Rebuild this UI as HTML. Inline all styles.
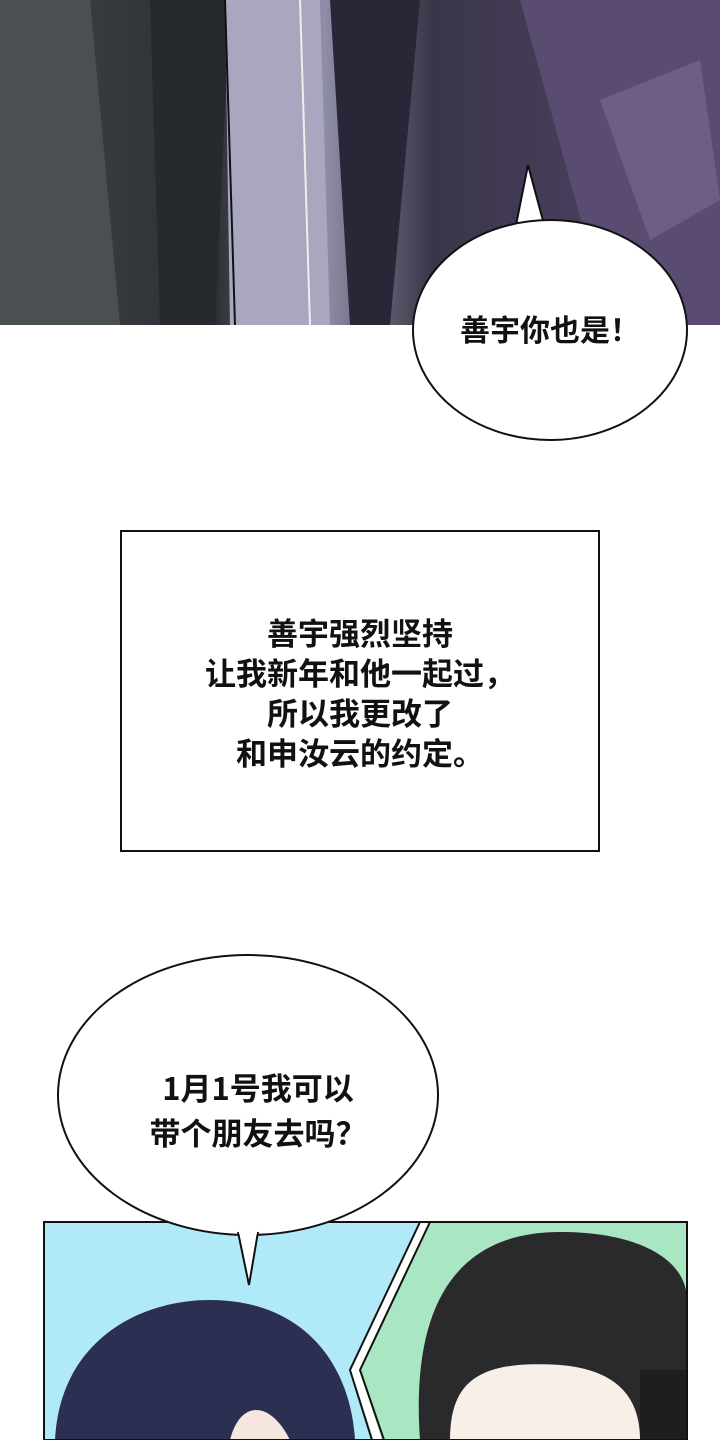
<!DOCTYPE html>
<html><head><meta charset="utf-8"><style>
body{margin:0;width:720px;height:1440px;background:#fff;position:relative;overflow:hidden;font-family:"Liberation Sans","Noto Sans CJK SC",sans-serif;}
.t{position:absolute;font-weight:bold;color:#111;text-align:center;white-space:nowrap;font-family:"Noto Sans CJK SC",sans-serif;}
</style></head><body>
<svg width="720" height="1440" style="position:absolute;left:0;top:0">
<defs>
<linearGradient id="g1" x1="0" y1="0" x2="1" y2="0">
<stop offset="0" stop-color="#3f4448"/><stop offset="0.3" stop-color="#2c3036"/><stop offset="0.45" stop-color="#8f8ea6"/><stop offset="0.6" stop-color="#3a3648"/><stop offset="0.85" stop-color="#4a3f60"/><stop offset="1" stop-color="#2e2a3a"/></linearGradient>
</defs>
<rect x="0" y="0" width="720" height="325" fill="url(#g1)"/>
<polygon points="0,0 90,0 120,325 0,325" fill="#4a5052"/>
<polygon points="150,0 230,0 215,325 160,325" fill="#262a2e"/>
<polygon points="225,0 320,0 330,325 230,325" fill="#a9a7c0"/>
<polygon points="330,0 420,0 390,325 350,325" fill="#2a2638"/>
<polygon points="520,0 720,0 720,325 610,325" fill="#5a4c70"/>
<polygon points="600,100 700,60 720,200 650,240" fill="#7b6a90" opacity="0.6"/>
<line x1="300" y1="0" x2="310" y2="325" stroke="#eee" stroke-width="2"/>
<line x1="225" y1="0" x2="235" y2="325" stroke="#111" stroke-width="2"/>
<path d="M515,230 L528,165 L545,228 Z" fill="#fff" stroke="#111" stroke-width="2"/>
<ellipse cx="550" cy="330" rx="137" ry="110" fill="#fff" stroke="#111" stroke-width="2"/>
<rect x="517" y="224" width="26" height="12" fill="#fff"/>
<rect x="121" y="531" width="478" height="320" fill="#fff" stroke="#111" stroke-width="2"/>
<rect x="44" y="1222" width="643" height="218" fill="#b0eaf8"/>
<polygon points="425,1222 687,1222 687,1440 382,1440 355,1370" fill="#a9e6c2"/>
<polyline points="425,1222 355,1370 378,1440" fill="none" stroke="#fff" stroke-width="8"/>
<polyline points="420,1222 350,1370 372,1440" fill="none" stroke="#111" stroke-width="2"/>
<polyline points="430,1222 360,1370 384,1440" fill="none" stroke="#111" stroke-width="2"/>
<path d="M55,1440 C60,1340 140,1300 210,1300 C300,1300 350,1360 355,1440 Z" fill="#2c2f52"/>
<path d="M230,1440 C240,1400 270,1400 290,1440 Z" fill="#f5e6e0"/>
<path d="M420,1440 C410,1300 460,1232 560,1232 C640,1232 687,1260 687,1300 L687,1440 Z" fill="#2a2a2c"/>
<path d="M450,1440 C450,1380 480,1360 560,1365 C620,1370 640,1400 640,1440 Z" fill="#f8f0e8"/>
<rect x="640" y="1370" width="47" height="70" fill="#1e1e1e"/>
<rect x="44" y="1222" width="643" height="218" fill="none" stroke="#111" stroke-width="2"/>
<ellipse cx="248" cy="1095" rx="190" ry="140" fill="#fff" stroke="#111" stroke-width="2"/>
<path d="M238,1232 L249,1285 L258,1232" fill="#fff" stroke="#111" stroke-width="2"/>
<rect x="239" y="1226" width="18" height="8" fill="#fff"/>
</svg>
<div class="t" style="left:413px;top:306px;width:274px;font-size:30px;line-height:44px;">善宇你也是！</div>
<div class="t" style="left:121px;top:612px;width:478px;font-size:31px;line-height:40px;">善宇强烈坚持<br>让我新年和他一起过，<br>所以我更改了<br>和申汝云的约定。</div>
<div class="t" style="left:58px;top:1064px;width:400px;font-size:31px;line-height:45px;">1月1号我可以<br>带个朋友去吗？</div>
</body></html>
